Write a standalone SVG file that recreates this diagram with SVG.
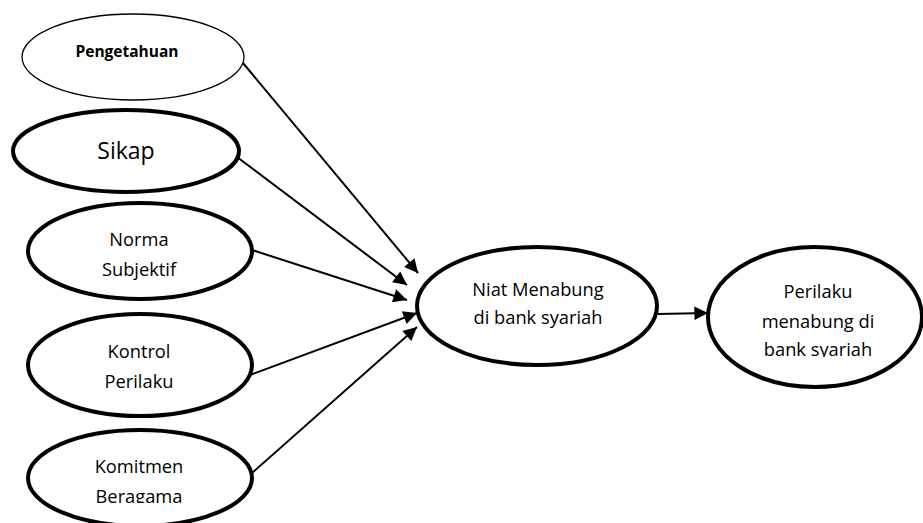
<svg xmlns="http://www.w3.org/2000/svg" width="923" height="523" viewBox="0 0 923 523">
<style>
  .thin{fill:#fff;stroke:#000;stroke-width:1.3}
  .thick{fill:#fff;stroke:#000;stroke-width:4}
  text{font-family:"Open Sans","Noto Sans",sans-serif;fill:#000;text-anchor:middle}
  .lbl{font-size:18.3px}
  .conn line{stroke:#000;stroke-width:2}
</style>
<defs>
  <marker id="arr" viewBox="0 0 10 10" refX="10" refY="5" markerWidth="8" markerHeight="6.8" markerUnits="strokeWidth" orient="auto">
    <path d="M0,0 L10,5 L0,10 z" fill="#000"/>
  </marker>
  <clipPath id="clipK"><rect x="0" y="430" width="260" height="73"/></clipPath>
  <clipPath id="clipP"><rect x="700" y="250" width="223" height="107"/></clipPath>
</defs>
<g id="connectors" class="conn">
  <line x1="243" y1="63" x2="418" y2="273" marker-end="url(#arr)"/>
  <line x1="237" y1="157" x2="407" y2="285" marker-end="url(#arr)"/>
  <line x1="252" y1="250" x2="407" y2="300" marker-end="url(#arr)"/>
  <line x1="250" y1="375" x2="417" y2="313" marker-end="url(#arr)"/>
  <line x1="252" y1="473" x2="417" y2="327" marker-end="url(#arr)"/>
  <line x1="658" y1="314" x2="708" y2="313" marker-end="url(#arr)"/>
</g>
<g id="pengetahuan">
  <ellipse class="thin" cx="133" cy="57" rx="111" ry="43"/>
  <text x="127" y="57" style="font-size:15.5px;font-weight:bold">Pengetahuan</text>
</g>
<g id="sikap">
  <ellipse class="thick" cx="126" cy="151" rx="113" ry="41"/>
  <text x="126" y="159" style="font-size:23px">Sikap</text>
</g>
<g id="norma">
  <ellipse class="thick" cx="140" cy="251" rx="112" ry="48"/>
  <text class="lbl" x="139" y="246">Norma</text>
  <text class="lbl" x="139" y="276">Subjektif</text>
</g>
<g id="kontrol">
  <ellipse class="thick" cx="140" cy="365" rx="112" ry="51"/>
  <text class="lbl" x="139" y="358">Kontrol</text>
  <text class="lbl" x="139" y="388">Perilaku</text>
</g>
<g id="komitmen">
  <ellipse class="thick" cx="140" cy="478" rx="112" ry="48"/>
  <g clip-path="url(#clipK)">
    <text class="lbl" x="139" y="473">Komitmen</text>
    <text class="lbl" x="139" y="503">Beragama</text>
  </g>
</g>
<g id="niat">
  <ellipse class="thick" cx="537" cy="306" rx="120" ry="59"/>
  <text class="lbl" x="538" y="296">Niat Menabung</text>
  <text class="lbl" x="538" y="324">di bank syariah</text>
</g>
<g id="perilaku">
  <ellipse class="thick" cx="815" cy="317" rx="107" ry="70"/>
  <g clip-path="url(#clipP)">
    <text class="lbl" x="818" y="298">Perilaku</text>
    <text class="lbl" x="818" y="328">menabung di</text>
    <text class="lbl" x="818" y="356">bank syariah</text>
  </g>
</g>
</svg>
